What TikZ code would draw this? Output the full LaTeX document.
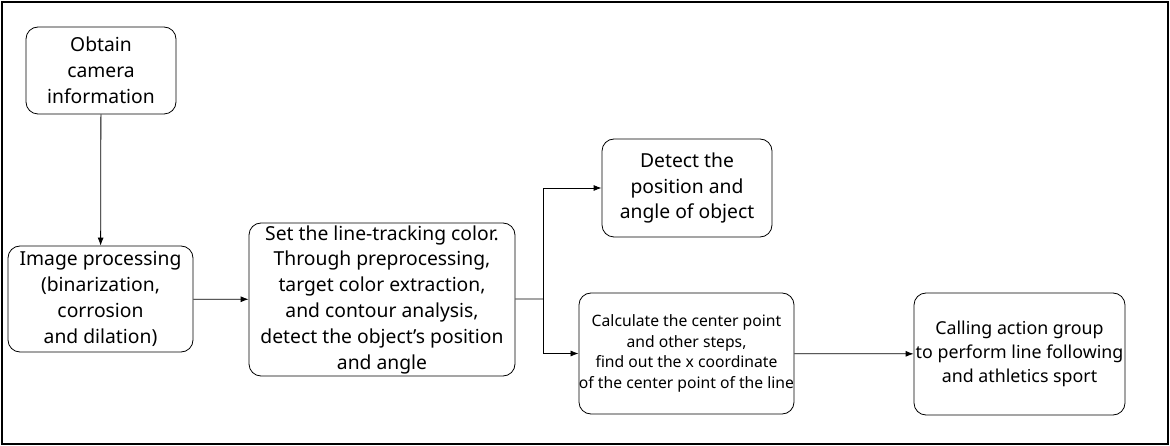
\documentclass[tikz,border=0pt]{standalone}
\usepackage{fontspec}
\setmainfont{Noto Sans}
\usetikzlibrary{arrows.meta}

\begin{document}
\begin{tikzpicture}[x=1pt,y=-1pt,
	box/.style={draw,line width=0.8pt,rounded corners=12pt,align=center,inner sep=0pt,font=\fontsize{19.3}{25.8}\selectfont},
	line/.style={-{Latex[length=8pt,width=6pt]},line width=0.8pt}]
\useasboundingbox (0,0) rectangle (1170,446);
\draw[line width=2pt] (2,2) rectangle (1168,444);
\node [box,minimum width=150pt,minimum height=87pt] (a) at (101,70.5) {Obtain\\camera\\information};
\node [box,minimum width=185pt,minimum height=106pt] (b) at (100.5,299) {Image processing\\(binarization,\\corrosion\\and dilation)};
\node [box,minimum width=266pt,minimum height=153pt] (c) at (382,299.5) {Set the line-tracking color.\\Through preprocessing,\\target color extraction,\\and contour analysis,\\detect the object's position\\and angle};
\node [box,minimum width=170pt,minimum height=98pt] (d) at (687,188) {Detect the\\position and\\angle of object};
\node [box,minimum width=213pt,minimum height=121pt,font=\fontsize{15.7}{20.7}\selectfont] (e) at (686.5,353.5) {Calculate the center point\\and other steps,\\find out the x coordinate\\of the center point of the line};
\node [box,minimum width=211pt,minimum height=122pt,font=\fontsize{17.8}{23.7}\selectfont] (f) at (1019.5,354) {Calling action group\\to perform line following\\and athletics sport};
\coordinate (split) at (543,299);
\draw[line] (a) -- (b);
\draw[line] (b) -- (c);
\draw[line width=0.8pt] (c) -- (split);
\draw[line] (split) |- (d);
\draw[line] (split) |- (e);
\draw[line] (e) -- (f);
\end{tikzpicture}
\end{document}
